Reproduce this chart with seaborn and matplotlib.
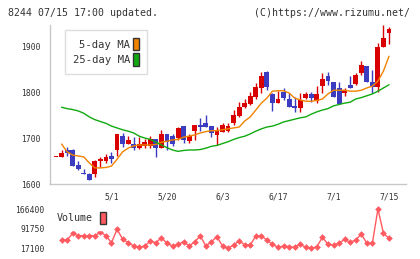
import numpy as np
import pandas as pd
import matplotlib
matplotlib.use("Agg")
import matplotlib.pyplot as plt
from matplotlib.patches import Patch
import seaborn as sns

# ── data ──────────────────────────────────────────────────────────────────────
open_ = [1658, 1658, 1674, 1674, 1642, 1624, 1622, 1622, 1651, 1650,
         1661, 1675, 1704, 1688, 1688, 1678, 1683, 1683, 1699, 1679,
         1709, 1704, 1701, 1726, 1694, 1716, 1728, 1733, 1726, 1707,
         1714, 1716, 1732, 1748, 1768, 1774, 1790, 1808, 1844, 1796,
         1777, 1801, 1784, 1770, 1766, 1788, 1796, 1780, 1813, 1835,
         1822, 1808, 1798, 1815, 1817, 1842, 1857, 1822, 1812, 1899, 1929]
high = [1658, 1674, 1680, 1676, 1651, 1632, 1624, 1652, 1658, 1665,
        1670, 1709, 1710, 1704, 1703, 1703, 1697, 1704, 1699, 1717,
        1709, 1709, 1723, 1726, 1709, 1728, 1743, 1750, 1726, 1725,
        1732, 1732, 1762, 1779, 1784, 1801, 1820, 1844, 1846, 1797,
        1803, 1808, 1797, 1790, 1797, 1801, 1801, 1813, 1842, 1844,
        1822, 1822, 1808, 1835, 1842, 1868, 1857, 1848, 1907, 1946, 1942]
low = [1658, 1658, 1660, 1639, 1630, 1622, 1608, 1615, 1636, 1646,
       1646, 1661, 1681, 1686, 1674, 1677, 1678, 1678, 1659, 1679,
       1675, 1683, 1696, 1690, 1690, 1696, 1716, 1725, 1703, 1685,
       1714, 1714, 1728, 1745, 1765, 1772, 1786, 1799, 1804, 1759,
       1777, 1783, 1768, 1757, 1757, 1786, 1779, 1777, 1799, 1815,
       1790, 1774, 1791, 1809, 1815, 1837, 1822, 1799, 1801, 1899, 1904]
close = [1658, 1668, 1668, 1640, 1633, 1621, 1609, 1650, 1654, 1658,
         1655, 1709, 1688, 1695, 1679, 1686, 1692, 1699, 1679, 1709,
         1692, 1688, 1721, 1696, 1704, 1728, 1725, 1725, 1712, 1716,
         1728, 1726, 1750, 1768, 1777, 1791, 1810, 1835, 1810, 1777,
         1784, 1788, 1768, 1766, 1783, 1796, 1788, 1796, 1828, 1825,
         1790, 1775, 1804, 1809, 1837, 1859, 1822, 1812, 1899, 1917, 1938]

ma5 = [np.nan, 1687, 1670, 1663, 1661, 1659, 1646, 1635, 1635, 1636,
       1639, 1654, 1670, 1678, 1683, 1685, 1685, 1685, 1686, 1691,
       1693, 1696, 1697, 1702, 1704, 1707, 1711, 1714, 1716, 1716,
       1718, 1720, 1722, 1724, 1737, 1746, 1761, 1776, 1787, 1802,
       1803, 1803, 1798, 1787, 1783, 1780, 1780, 1782, 1785, 1796,
       1804, 1804, 1804, 1802, 1802, 1804, 1809, 1813, 1824, 1846, 1878]
ma25 = [np.nan, 1767, 1764, 1762, 1759, 1754, 1746, 1740, 1736, 1732,
        1726, 1722, 1718, 1715, 1711, 1704, 1700, 1697, 1691, 1685,
        1679, 1674, 1671, 1673, 1674, 1674, 1675, 1678, 1682, 1684,
        1688, 1692, 1697, 1701, 1704, 1709, 1715, 1720, 1724, 1726,
        1730, 1735, 1738, 1741, 1744, 1746, 1752, 1757, 1761, 1764,
        1770, 1773, 1776, 1778, 1785, 1788, 1792, 1796, 1802, 1809, 1816]

volume = [np.nan, 50700, 50700, 75000, 66700, 66700, 66700, 66700, 80000, 66700,
          40600, 90600, 54400, 40600, 28300, 23400, 28300, 47000, 40600, 59300,
          38400, 28300, 34600, 44300, 28300, 44300, 65600, 28300, 44300, 63000,
          28300, 19700, 32000, 48100, 32000, 32000, 65600, 65600, 50700, 34600,
          23400, 28300, 25700, 23400, 34600, 23400, 19700, 25700, 60800, 34600,
          32000, 38400, 53300, 42100, 50700, 73100, 38400, 38400, 166400, 75700, 57000]

date_pos = [10, 20, 30, 40, 50, 60]
date_labels = ["5/1", "5/20", "6/3", "6/17", "7/1", "7/15"]
price_ticks = [1600, 1700, 1800, 1900]
vol_ticks = [17100, 91750, 166400]

# ── style ─────────────────────────────────────────────────────────────────────
sns.set_style("white")
plt.rcParams['font.family'] = ['DejaVu Sans Mono']
TXT = "#333333"
GRID = "#c8c8c8"
RED = "#d80000"
BLUE = "#3c3cc0"

df = pd.DataFrame({"i": np.arange(len(close)), "open": open_, "high": high,
                   "low": low, "close": close, "ma5": ma5, "ma25": ma25,
                   "volume": volume})
up = df["close"] >= df["open"]
colors = np.where(up, RED, BLUE)

W, H = 420, 259
fig = plt.figure(figsize=(W / 100, H / 100), dpi=100)
ax = fig.add_axes([50 / W, 1 - 184 / H, 356 / W, 159 / H])
axv = fig.add_axes([50 / W, 1 - 255 / H, 356 / W, 52 / H])

# ── candles ───────────────────────────────────────────────────────────────────
ax.vlines(df["i"], df["low"], df["high"], colors=colors, linewidth=1, zorder=2)
body_lo = np.minimum(df["open"], df["close"])
body_h = np.maximum(np.abs(df["close"] - df["open"]), 2)
ax.bar(df["i"], body_h, bottom=body_lo, width=0.88, color=colors,
       linewidth=0, zorder=3)

sns.lineplot(data=df, x="i", y="ma5", ax=ax, color="#f08300", linewidth=1,
             zorder=4, legend=False)
sns.lineplot(data=df, x="i", y="ma25", ax=ax, color="#10aa10", linewidth=1,
             zorder=4, legend=False)

ax.set_xlim(-1.08, 63.06)
ax.set_ylim(1600, 1946)
ax.set_xlabel(""); ax.set_ylabel("")
for s in ["top", "right"]:
    ax.spines[s].set_visible(False)
for s in ["left", "bottom"]:
    ax.spines[s].set_color(GRID)
    ax.spines[s].set_linewidth(1)
ax.set_yticks(price_ticks)
ax.set_yticklabels([str(t) for t in price_ticks])
ax.tick_params(axis="y", direction="inout", length=8, width=1, color=GRID,
               labelsize=5.8, labelcolor=TXT, pad=3)
ax.set_xticks(date_pos)
ax.set_xticklabels(date_labels)
ax.set_xticks(np.linspace(-1.08, 63.06, 12), minor=True)
ax.tick_params(axis="x", which="major", length=0, labelsize=5.8,
               labelcolor=TXT, pad=6)
ax.tick_params(axis="x", which="minor", direction="inout", length=7, width=1,
               color=GRID)

leg = ax.legend(handles=[Patch(facecolor="#f08300", edgecolor="#333333", label="5-day MA"),
                         Patch(facecolor="#10aa10", edgecolor="#333333", label="25-day MA")],
                loc="upper left", bbox_to_anchor=(65 / W, 1 - 30 / H),
                bbox_transform=fig.transFigure, borderaxespad=0,
                markerfirst=False, fontsize=7.6, handlelength=0.55,
                handleheight=1.45, handletextpad=0.3, labelspacing=0.25,
                borderpad=0.75, fancybox=False, framealpha=1,
                edgecolor="#dddddd")
for t in leg.get_texts():
    t.set_color(TXT)
leg.set_zorder(10)

# ── volume ────────────────────────────────────────────────────────────────────
sns.lineplot(data=df, x="i", y="volume", ax=axv, color="#ff5a60", linewidth=1,
             marker="D", markersize=3.4, markeredgewidth=0, legend=False)
axv.set_xlim(-1.08, 63.06)
axv.set_ylim(-5300, 188800)
axv.set_xlabel(""); axv.set_ylabel("")
sns.despine(ax=axv, left=True, bottom=True)
axv.set_xticks([])
axv.set_yticks(vol_ticks)
axv.set_yticklabels([str(t) for t in vol_ticks])
axv.tick_params(axis="y", length=0, labelsize=5.8, labelcolor=TXT, pad=4)

legv = axv.legend(handles=[Patch(facecolor="#ff5a60", edgecolor="#333333", label="Volume")],
                  loc="upper left", bbox_to_anchor=(51 / W, 1 - 206 / H),
                  bbox_transform=fig.transFigure, borderaxespad=0,
                  markerfirst=False, fontsize=7.2, handlelength=0.6,
                  handleheight=1.5, handletextpad=0.7, borderpad=0.6,
                  fancybox=False, framealpha=1, edgecolor="white")
for t in legv.get_texts():
    t.set_color(TXT)
legv.set_zorder(10)

# ── header ────────────────────────────────────────────────────────────────────
fig.text(8 / W, 1 - 12.5 / H, "8244 07/15 17:00 updated.", fontsize=7.1,
         color=TXT, ha="left", va="center")
fig.text(410 / W, 1 - 12.5 / H, "(C)https://www.rizumu.net/", fontsize=7.1,
         color=TXT, ha="right", va="center")

fig.savefig("out.png", dpi=100, facecolor="white")
